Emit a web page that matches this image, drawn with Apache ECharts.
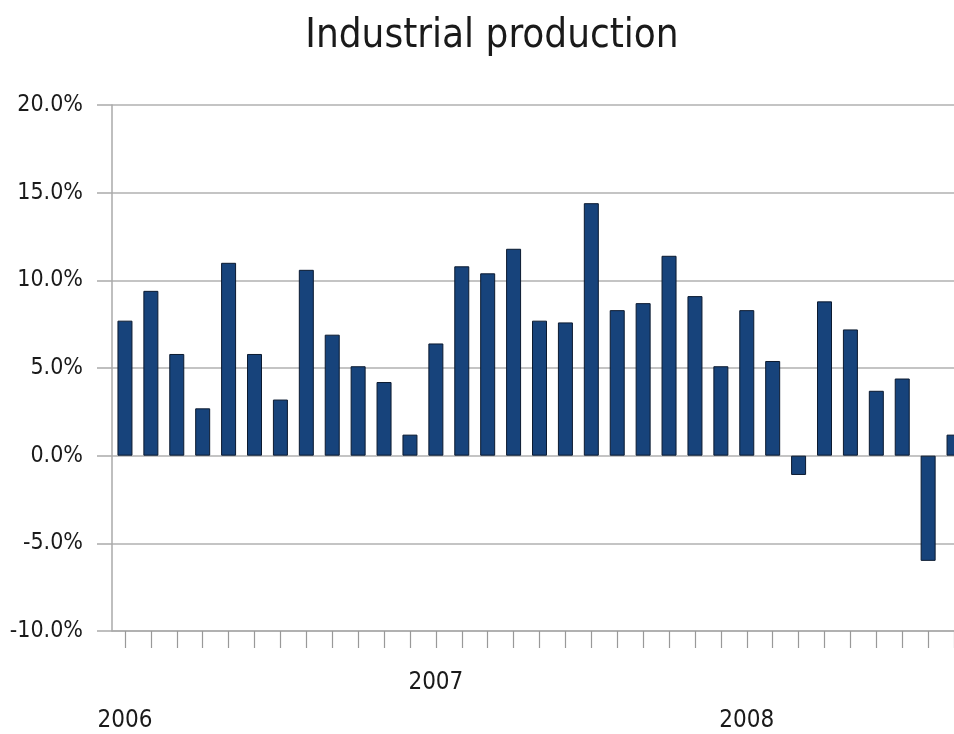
<!DOCTYPE html>
<html>
<head>
<meta charset="utf-8">
<script src="https://cdn.jsdelivr.net/npm/echarts@6/dist/echarts.min.js"></script>
<style>
  html, body { margin: 0; padding: 0; background: #fff; }
  #chart { width: 954px; height: 734px; }
</style>
</head>
<body>
<div id="chart"></div>
<script>
// Monthly categories (Jan 2006 – Sep 2008)
const months = [
  '2006-01','2006-02','2006-03','2006-04','2006-05','2006-06','2006-07','2006-08','2006-09','2006-10','2006-11','2006-12',
  '2007-01','2007-02','2007-03','2007-04','2007-05','2007-06','2007-07','2007-08','2007-09','2007-10','2007-11','2007-12',
  '2008-01','2008-02','2008-03','2008-04','2008-05','2008-06','2008-07','2008-08','2008-09'
];
// Industrial production growth, %
const growth = [
  7.7, 9.4, 5.8, 2.7, 11.0, 5.8, 3.2, 10.6, 6.9, 5.1, 4.2, 1.2,
  6.4, 10.8, 10.4, 11.8, 7.7, 7.6, 14.4, 8.3, 8.7, 11.4, 9.1, 5.1,
  8.3, 5.4, -1.1, 8.8, 7.2, 3.7, 4.4, -6.0, 1.2
];
// Year tick labels shown on the category axis
const yearLabels = ['2006', '2007', '2008'];
const yTicks = [-10, -5, 0, 5, 10, 15, 20];

const FONT = '"DejaVu Sans Condensed", "Liberation Sans Narrow", "Liberation Sans", sans-serif';

const chart = echarts.init(document.getElementById('chart'), null, { renderer: 'canvas' });

function yearOf(idx) {
  const m = months[idx];
  if (m.slice(5) !== '01') return null;
  const y = m.slice(0, 4);
  return yearLabels.indexOf(y) >= 0 ? y : null;
}

chart.setOption({
  backgroundColor: '#ffffff',
  animation: false,
  title: {
    text: 'Industrial production',
    left: 487,
    top: 12,
    textAlign: 'center',
    textStyle: { fontFamily: FONT, fontSize: 40, fontWeight: 'normal', color: '#1a1a1a' }
  },
  grid: { left: 112, right: -13, top: 105, bottom: 103, containLabel: false, outerBoundsMode: 'none' },
  xAxis: {
    type: 'category',
    data: months,
    boundaryGap: true,
    axisLine: { show: true, onZero: false, lineStyle: { color: '#aaaaaa', width: 1.5 } },
    axisTick: { show: true, interval: 0, alignWithLabel: true, length: 17, lineStyle: { color: '#999999', width: 1.2 } },
    axisLabel: {
      interval: function (idx) { return yearOf(idx) !== null; },
      margin: 40,
      fontFamily: FONT,
      fontSize: 24,
      color: '#1a1a1a',
      formatter: function (val, idx) {
        const y = yearOf(idx);
        if (y === null) return '';
        return yearLabels.indexOf(y) % 2 === 1 ? '{hi|' + y + '}' : '{lo|' + y + '}';
      },
      rich: {
        hi: { fontFamily: FONT, fontSize: 24, color: '#1a1a1a' },
        lo: { fontFamily: FONT, fontSize: 24, color: '#1a1a1a', padding: [38, 0, 0, 0] }
      }
    },
    splitLine: { show: false }
  },
  yAxis: {
    type: 'value',
    min: yTicks[0],
    max: yTicks[yTicks.length - 1],
    interval: 5,
    axisLine: { show: true, lineStyle: { color: '#aaaaaa', width: 1.5 } },
    axisTick: { show: true, inside: false, length: 15, lineStyle: { color: '#aaaaaa', width: 1.5 } },
    axisLabel: {
      margin: 29,
      fontFamily: FONT,
      fontSize: 23,
      color: '#1a1a1a',
      formatter: function (v) { return v.toFixed(1) + '%'; }
    },
    splitLine: { show: true, lineStyle: { color: '#b0b0b0', width: 1.5 } }
  },
  series: [{
    type: 'bar',
    data: growth,
    barWidth: 15,
    itemStyle: { color: '#17437b', borderColor: '#0b1a30', borderWidth: 1 }
  }]
});
</script>
</body>
</html>
